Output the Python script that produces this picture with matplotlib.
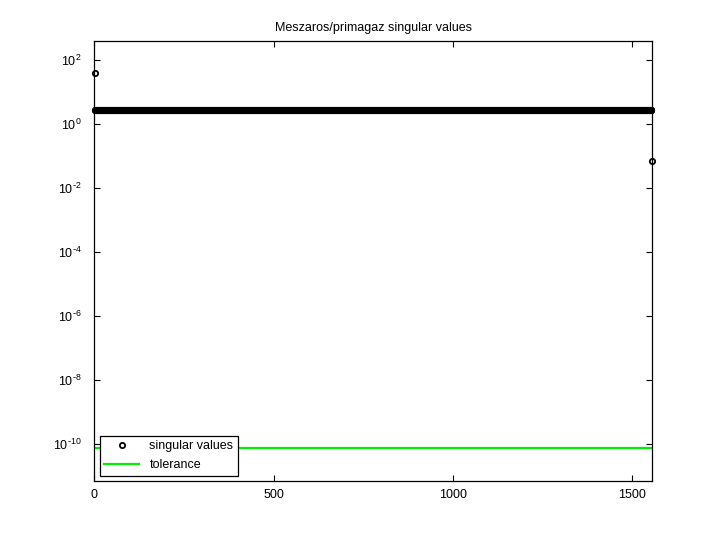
import matplotlib
matplotlib.use("Agg")
import matplotlib.pyplot as plt
import numpy as np

# Data
n_values = 1554
first_values = [39.0]
band_value = 2.74
band_count = 1552
last_values = [0.071]
tolerance = 7.8e-11

singular_values = np.array(first_values + [band_value] * band_count + last_values)
index = np.arange(1, len(singular_values) + 1)

x_ticks = [0, 500, 1000, 1500]
y_ticks = [1e2, 1e0, 1e-2, 1e-4, 1e-6, 1e-8, 1e-10]
y_tick_labels = [r'$\mathdefault{10^{2}}$', r'$\mathdefault{10^{0}}$',
                 r'$\mathdefault{10^{\text{-}2}}$', r'$\mathdefault{10^{\text{-}4}}$',
                 r'$\mathdefault{10^{\text{-}6}}$', r'$\mathdefault{10^{\text{-}8}}$',
                 r'$\mathdefault{10^{\text{-}10}}$']

plt.rcParams['font.family'] = ['Liberation Sans', 'DejaVu Sans']
plt.rcParams['font.size'] = 9

fig = plt.figure(figsize=(7.2, 5.4), dpi=100)
ax = fig.add_axes([0.131, 0.109, 0.775, 0.815])

ax.semilogy(index, singular_values, linestyle='none', marker='o', markersize=3.8,
            markerfacecolor='none', markeredgecolor='black', markeredgewidth=1.3,
            label='singular values', clip_on=False, zorder=3)
ax.semilogy([0, 1556], [tolerance, tolerance], color='#00ee00', linewidth=1.6,
            label='tolerance')

ax.set_xlim(0, 1556)
ax.set_ylim(10 ** -11.15, 10 ** 2.6)
ax.set_xticks(x_ticks)
ax.set_yticks(y_ticks)
ax.set_yticklabels(y_tick_labels)
ax.yaxis.set_minor_locator(matplotlib.ticker.NullLocator())
ax.tick_params(direction='in', length=4, width=0.8, top=True, right=True, labelsize=9)
ax.tick_params(axis='y', pad=9)
ax.tick_params(axis='x', pad=6)
for s in ax.spines.values():
    s.set_linewidth(0.9)

ax.set_title('Meszaros/primagaz singular values', fontsize=9, pad=7)

leg = ax.legend(loc='lower left', fancybox=False, edgecolor='black', framealpha=1,
                handlelength=2.8, borderaxespad=0.45, fontsize=9, borderpad=0.35,
                labelspacing=0.55)
leg.get_frame().set_linewidth(0.9)

fig.savefig('out.png', dpi=100)
